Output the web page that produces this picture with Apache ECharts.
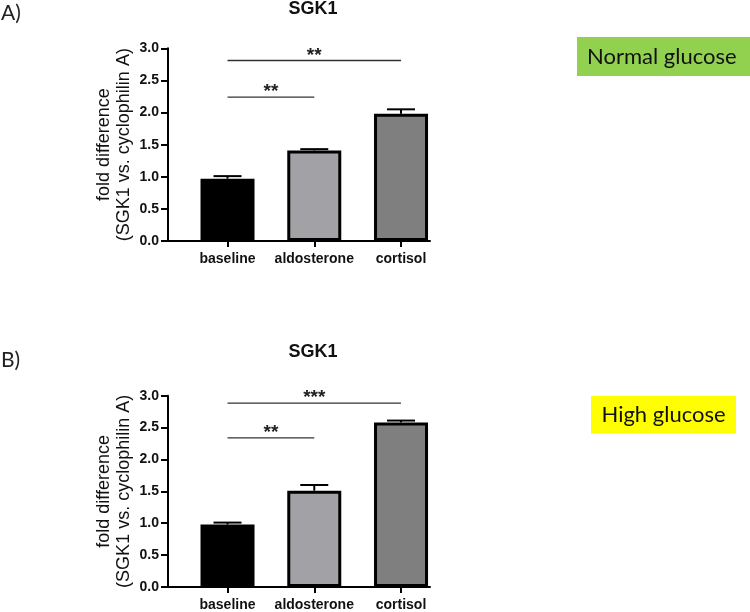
<!DOCTYPE html>
<html>
<head>
<meta charset="utf-8">
<script src="https://cdn.jsdelivr.net/npm/echarts@6/dist/echarts.min.js"></script>
<style>html,body{margin:0;padding:0;background:#fff}#c{width:750px;height:612px}</style>
</head>
<body>
<div id="c"></div>
<script>
// ---- data ----
const categories = ['baseline', 'aldosterone', 'cortisol'];
const normalMean = [0.97, 1.41, 1.98];
const normalErr = [0.04, 0.02, 0.07];
const highMean = [0.98, 1.51, 2.58];
const highErr = [0.03, 0.09, 0.03];
const yTicks = [0, 0.5, 1.0, 1.5, 2.0, 2.5, 3.0];
const barColors = ['#000000', '#a2a2a6', '#7f7f7f'];
const normalBrackets = [[0, 1, 2.24], [0, 2, 2.81]];
const normalStars = ['**', '**'];
const highBrackets = [[0, 1, 2.34], [0, 2, 2.885]];
const highStars = ['**', '***'];

const AX = 'Liberation Sans, Arial, sans-serif';
const CAL = 'Lato, Open Sans, sans-serif';

const chart = echarts.init(document.getElementById('c'), null, {renderer: 'canvas'});

function xAxisDef(gi) {
  return {
    gridIndex: gi, type: 'value', min: -0.686, max: 2.334,
    splitLine: {show: false},
    axisLine: {show: true, onZero: false, lineStyle: {color: '#000', width: 2}},
    axisTick: {show: true, customValues: [0, 1, 2], length: 6, lineStyle: {color: '#000', width: 2}},
    axisLabel: {customValues: [0, 1, 2], formatter: v => categories[Math.round(v)] || '',
      margin: 11, fontFamily: AX, fontWeight: 'bold', fontSize: 14, color: '#111'}
  };
}
function yAxisDef(gi) {
  return {
    gridIndex: gi, type: 'value', min: yTicks[0], max: yTicks[yTicks.length - 1], interval: 0.5,
    name: 'fold difference\n(SGK1 vs. cyclophilin A)', nameLocation: 'middle', nameGap: 34,
    nameTextStyle: {fontFamily: AX, fontSize: 18, lineHeight: 20, color: '#111'},
    splitLine: {show: false},
    axisLine: {show: true, onZero: false, lineStyle: {color: '#000', width: 2}},
    axisTick: {show: true, length: 7, lineStyle: {color: '#000', width: 2}},
    axisLabel: {formatter: v => v.toFixed(1), margin: 9, fontFamily: AX, fontWeight: 'bold', fontSize: 14, color: '#111'}
  };
}
function barSeries(gi, mean) {
  return {
    type: 'bar', xAxisIndex: gi, yAxisIndex: gi, barWidth: 54,
    data: mean.map((m, i) => ({value: [i, m], itemStyle: {color: barColors[i]}})),
    itemStyle: {borderColor: '#000', borderWidth: 3},
    z: 2
  };
}
function errSeries(gi, mean, err) {
  return {
    type: 'custom', xAxisIndex: gi, yAxisIndex: gi, z: 3,
    data: mean.map((m, i) => [i, m, err[i]]),
    renderItem: function (params, api) {
      const x = api.value(0), m = api.value(1), e = api.value(2);
      const top = api.coord([x, m + e]);
      const base = api.coord([x, m]);
      return {type: 'group', children: [
        {type: 'line', shape: {x1: top[0], y1: base[1], x2: top[0], y2: top[1]}, style: {stroke: '#000', lineWidth: 2}},
        {type: 'line', shape: {x1: top[0] - 14, y1: top[1], x2: top[0] + 14, y2: top[1]}, style: {stroke: '#000', lineWidth: 2}}
      ]};
    }
  };
}
function bracketSeries(gi, br, stars) {
  return {
    type: 'custom', xAxisIndex: gi, yAxisIndex: gi, z: 3,
    data: br,
    renderItem: function (params, api) {
      const p1 = api.coord([api.value(0), api.value(2)]);
      const p2 = api.coord([api.value(1), api.value(2)]);
      return {type: 'group', children: [
        {type: 'line', shape: {x1: p1[0], y1: p1[1], x2: p2[0], y2: p2[1]}, style: {stroke: '#333', lineWidth: 1.3}},
        {type: 'text', x: (p1[0] + p2[0]) / 2, y: p1[1] - 5,
          style: {text: stars[params.dataIndex], fontFamily: AX, fontWeight: 'bold', fontSize: 19, fill: '#222', align: 'center', verticalAlign: 'middle'}}
      ]};
    }
  };
}

const option = {
  animation: false,
  backgroundColor: '#fff',
  grid: [
    {left: 168, top: 48.3, width: 262, height: 192.7},
    {left: 168, top: 395.7, width: 262, height: 191.6}
  ],
  xAxis: [xAxisDef(0), xAxisDef(1)],
  yAxis: [yAxisDef(0), yAxisDef(1)],
  series: [
    barSeries(0, normalMean), errSeries(0, normalMean, normalErr), bracketSeries(0, normalBrackets, normalStars),
    barSeries(1, highMean), errSeries(1, highMean, highErr), bracketSeries(1, highBrackets, highStars)
  ],
  graphic: [
    {type: 'text', left: 1, top: 3, style: {text: 'A)', fontFamily: CAL, fontSize: 21, fill: '#222'}},
    {type: 'text', left: 1, top: 350, style: {text: 'B)', fontFamily: CAL, fontSize: 21, fill: '#222'}},
    {type: 'text', x: 313, y: 9, style: {text: 'SGK1', fontFamily: AX, fontWeight: 'bold', fontSize: 18, fill: '#111', align: 'center', verticalAlign: 'middle'}},
    {type: 'text', x: 313, y: 352.5, style: {text: 'SGK1', fontFamily: AX, fontWeight: 'bold', fontSize: 18, fill: '#111', align: 'center', verticalAlign: 'middle'}},
    {type: 'rect', shape: {x: 577, y: 37, width: 173, height: 39}, style: {fill: '#92d050'}},
    {type: 'text', x: 587, y: 56.5, style: {text: 'Normal glucose', fontFamily: CAL, fontSize: 22, fill: '#111', align: 'left', verticalAlign: 'middle'}},
    {type: 'rect', shape: {x: 591, y: 396, width: 145, height: 37.5}, style: {fill: '#ffff00'}},
    {type: 'text', x: 601.5, y: 415, style: {text: 'High glucose', fontFamily: CAL, fontSize: 22, fill: '#111', align: 'left', verticalAlign: 'middle'}}
  ]
};
chart.setOption(option);
</script>
</body>
</html>
